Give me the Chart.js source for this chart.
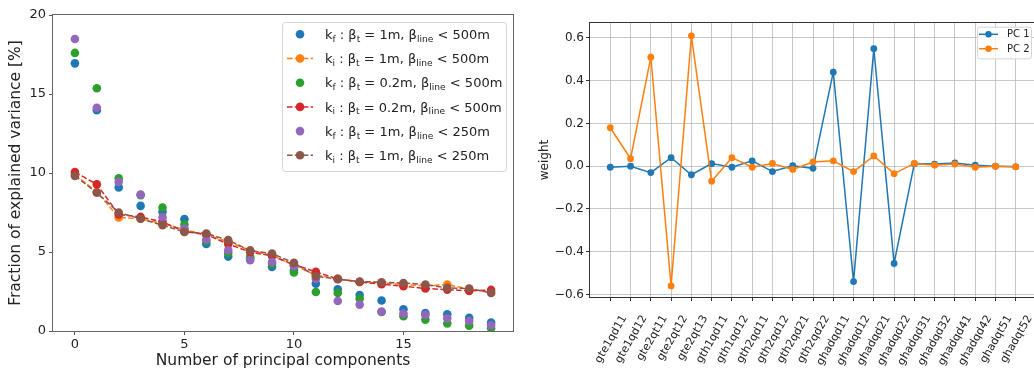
<!DOCTYPE html>
<html><head><meta charset="utf-8">
<script src="https://cdn.jsdelivr.net/npm/chart.js@4.4.0/dist/chart.umd.min.js"></script>
<style>
html,body{margin:0;padding:0;background:#fff;overflow:hidden;width:1034px;height:370px;position:relative;}
#c1{position:absolute;left:0;top:0;}
#c2{position:absolute;left:525px;top:0;}
</style></head><body>
<canvas id="c1" width="525" height="370"></canvas>
<canvas id="c2" width="515" height="370"></canvas>
<script>
// ---------- data: left panel ----------
const components = [0,1,2,3,4,5,6,7,8,9,10,11,12,13,14,15,16,17,18,19];
const xTickValues = [0,5,10,15];
const yTickValues = [0,5,10,15,20];
const seriesLabels = [
  'k_{f} : β_{t} = 1m, β_{line} < 500m',
  'k_{i} : β_{t} = 1m, β_{line} < 500m',
  'k_{f} : β_{t} = 0.2m, β_{line} < 500m',
  'k_{i} : β_{t} = 0.2m, β_{line} < 500m',
  'k_{f} : β_{t} = 1m, β_{line} < 250m',
  'k_{i} : β_{t} = 1m, β_{line} < 250m'
];
const kf_1m_500 = [16.94,13.97,9.09,7.92,7.54,7.08,5.51,4.71,4.6,4.06,3.85,3.0,2.64,2.28,1.93,1.37,1.14,1.06,0.83,0.53];
const ki_1m_500 = [9.9,8.8,7.19,7.1,6.8,6.4,6.1,5.65,5.1,4.8,4.15,3.55,3.3,3.1,3.05,2.95,2.85,2.94,2.65,2.45];
const kf_02m_500 = [17.6,15.36,9.66,8.6,7.82,6.74,5.7,4.94,4.69,4.25,3.7,2.47,2.41,2.05,1.2,0.93,0.72,0.47,0.34,0.17];
const ki_02m_500 = [10.06,9.28,7.38,7.22,6.91,6.3,6.1,5.5,5.0,4.75,4.2,3.74,3.3,3.1,2.96,2.83,2.69,2.62,2.54,2.6];
const kf_1m_250 = [18.48,14.13,9.44,8.64,7.19,6.49,5.79,5.11,4.48,4.37,4.1,3.3,1.9,1.67,1.23,1.1,1.02,0.8,0.63,0.36];
const ki_1m_250 = [9.82,8.75,7.5,7.1,6.7,6.27,6.17,5.75,5.09,4.9,4.31,3.47,3.28,3.13,3.09,3.04,2.94,2.73,2.69,2.41];

// ---------- data: right panel ----------
const magnets = ['gte1qd11','gte1qd12','gte2qt11','gte2qt12','gte2qt13','gth1qd11','gth1qd12','gth2qd11','gth2qd12','gth2qd21','gth2qd22','ghadqd11','ghadqd12','ghadqd21','ghadqd22','ghadqd31','ghadqd32','ghadqd41','ghadqd42','ghadqt51','ghadqt52'];
const pcLabels = ['PC 1','PC 2'];
const pc1 = [-0.005,0.0,-0.03,0.04,-0.04,0.012,-0.005,0.025,-0.025,0.002,-0.01,0.44,-0.54,0.55,-0.455,0.012,0.01,0.015,0.005,0.0,-0.003];
const pc2 = [0.18,0.035,0.51,-0.56,0.61,-0.07,0.04,-0.005,0.013,-0.015,0.02,0.025,-0.025,0.048,-0.035,0.013,0.005,0.01,-0.005,0.0,-0.002];
const weightTicks = [-0.6,-0.4,-0.2,0.0,0.2,0.4,0.6];

// ---------- helpers ----------
const FONT = "'DejaVu Sans', sans-serif";
const TAB = ['#1f77b4','#ff7f0e','#2ca02c','#d62728','#9467bd','#8c564b'];
function richParts(s){ return s.split(/_\{([^}]*)\}/).map((t,i)=>({t, sub: i%2===1})).filter(p=>p.t.length); }
function plain(s){ return s.replace(/_\{([^}]*)\}/g,'$1'); }
function drawRich(ctx, s, x, cy, size){
  let cx = x;
  const base = cy + size*0.36;
  ctx.textAlign='left'; ctx.textBaseline='alphabetic';
  richParts(s).forEach(p=>{
    const fs = p.sub ? size*0.7 : size;
    ctx.font = fs + 'px ' + FONT;
    ctx.fillText(p.t, cx, base + (p.sub ? size*0.22 : 0));
    cx += ctx.measureText(p.t).width;
  });
}
function roundRect(ctx,x,y,w,h,r){
  ctx.beginPath();
  ctx.moveTo(x+r,y); ctx.lineTo(x+w-r,y); ctx.arcTo(x+w,y,x+w,y+r,r);
  ctx.lineTo(x+w,y+h-r); ctx.arcTo(x+w,y+h,x+w-r,y+h,r);
  ctx.lineTo(x+r,y+h); ctx.arcTo(x,y+h,x,y+h-r,r);
  ctx.lineTo(x,y+r); ctx.arcTo(x,y,x+r,y,r); ctx.closePath();
}
function frame(color){
  return { id:'frame', afterDraw(chart){
    const a = chart.chartArea, ctx = chart.ctx;
    ctx.save(); ctx.strokeStyle=color; ctx.lineWidth=1;
    ctx.strokeRect(Math.round(a.left)-0.5, Math.round(a.top)-0.5, Math.round(a.right-a.left)+1, Math.round(a.bottom-a.top)+1);
    ctx.restore();
  }};
}

// ---------- left chart ----------
const leftSeries = [kf_1m_500, ki_1m_500, kf_02m_500, ki_02m_500, kf_1m_250, ki_1m_250];
const leftLines = [false,true,false,true,false,true];
const legendLeft = { id:'legendLeft', afterDraw(chart){
  const ctx = chart.ctx, a = chart.chartArea;
  const w = 224, h = 149, x0 = a.right - 7 - w, y0 = a.top + 7;
  ctx.save();
  roundRect(ctx, x0+0.5, y0+0.5, w, h, 3);
  ctx.fillStyle='rgba(255,255,255,0.85)'; ctx.fill();
  ctx.strokeStyle='#d6d6d6'; ctx.lineWidth=1; ctx.stroke();
  chart.data.datasets.forEach((ds,i)=>{
    const cy = y0 + 12.3 + i*24.2;
    const col = ds.borderColor;
    if (ds.showLine){
      ctx.strokeStyle=col; ctx.lineWidth=1.5; ctx.setLineDash([5.5,2.4]);
      ctx.beginPath(); ctx.moveTo(x0+5,cy); ctx.lineTo(x0+31,cy); ctx.stroke(); ctx.setLineDash([]);
    }
    ctx.fillStyle=col; ctx.beginPath(); ctx.arc(x0+18,cy,4.3,0,Math.PI*2); ctx.fill();
    ctx.fillStyle='#222';
    drawRich(ctx, seriesLabels[i], x0+43, cy, 13);
  });
  ctx.restore();
}};

new Chart(document.getElementById('c1'), {
  type:'scatter',
  data:{ datasets: leftSeries.map((vals,i)=>({
    label: plain(seriesLabels[i]),
    data: components.map((c,j)=>({x:c, y:vals[j]})),
    showLine: leftLines[i],
    borderColor: TAB[i], backgroundColor: TAB[i],
    borderDash:[5.5,2.4], borderWidth:1.5,
    pointRadius:4.3, pointHoverRadius:4.3, pointBorderWidth:0,
    order: 10-i
  }))},
  options:{
    responsive:false, animation:false, devicePixelRatio:1,
    layout:{padding:{top:15,right:12,left:0,bottom:0}},
    plugins:{legend:{display:false}, tooltip:{enabled:false}},
    scales:{
      x:{ type:'linear', min:-1, max:20,
        afterBuildTicks(s){ s.ticks = xTickValues.map(v=>({value:v})); },
        afterFit(s){ s.height = 39; },
        ticks:{ font:{family:FONT,size:13}, color:'#222', padding:2 },
        grid:{ drawOnChartArea:false, drawTicks:true, tickLength:4, tickColor:'#555' },
        border:{display:false},
        title:{ display:true, text:'Number of principal components', font:{family:FONT,size:15.5}, color:'#222', padding:{top:0,bottom:0} }
      },
      y:{ min:0, max:20,
        afterBuildTicks(s){ s.ticks = yTickValues.map(v=>({value:v})); },
        afterFit(s){ s.width = 53; },
        ticks:{ font:{family:FONT,size:13}, color:'#222', padding:3 },
        grid:{ drawOnChartArea:false, drawTicks:true, tickLength:4, tickColor:'#555' },
        border:{display:false},
        title:{ display:true, text:'Fraction of explained variance [%]', font:{family:FONT,size:15.5}, color:'#222', padding:{top:7,bottom:0} }
      }
    }
  },
  plugins:[frame('#666'), legendLeft]
});

// ---------- right chart ----------
const rightSeries = [pc1, pc2];
const legendRight = { id:'legendRight', afterDraw(chart){
  const ctx = chart.ctx, a = chart.chartArea;
  const w = 54, h = 31.6, x0 = a.right - 5 - w, y0 = a.top + 3.7;
  ctx.save();
  roundRect(ctx, x0+0.5, y0+0.5, w, h, 2.5);
  ctx.fillStyle='rgba(255,255,255,0.85)'; ctx.fill();
  ctx.strokeStyle='#d6d6d6'; ctx.lineWidth=1; ctx.stroke();
  chart.data.datasets.forEach((ds,i)=>{
    const cy = y0 + 7.6 + i*14.4;
    ctx.strokeStyle=ds.borderColor; ctx.lineWidth=1.5;
    ctx.beginPath(); ctx.moveTo(x0+2,cy); ctx.lineTo(x0+21,cy); ctx.stroke();
    ctx.fillStyle=ds.borderColor; ctx.beginPath(); ctx.arc(x0+11.5,cy,3.2,0,Math.PI*2); ctx.fill();
    ctx.fillStyle='#222'; ctx.font='10px '+FONT; ctx.textAlign='left'; ctx.textBaseline='middle';
    ctx.fillText(ds.label, x0+30, cy+0.5);
  });
  ctx.restore();
}};

new Chart(document.getElementById('c2'), {
  type:'scatter',
  data:{ datasets: rightSeries.map((vals,i)=>({
    label: pcLabels[i],
    data: magnets.map((m,j)=>({x:j, y:vals[j]})),
    showLine:true,
    borderColor: TAB[i], backgroundColor: TAB[i],
    borderWidth:1.5,
    pointRadius:3.4, pointHoverRadius:3.4, pointBorderWidth:0,
    order: 10-i
  }))},
  options:{
    responsive:false, animation:false, devicePixelRatio:1,
    layout:{padding:{top:23,right:4,left:0,bottom:0}},
    plugins:{legend:{display:false}, tooltip:{enabled:false}},
    scales:{
      x:{ type:'linear', min:-1, max:21,
        afterBuildTicks(s){ s.ticks = magnets.map((m,j)=>({value:j})); },
        afterFit(s){ s.height = 73; },
        ticks:{ font:{family:FONT,size:11}, color:'#222', padding:12, labelOffset:14,
          minRotation:60, maxRotation:60, autoSkip:false,
          callback:(v)=>magnets[v] },
        grid:{ color:'rgba(176,176,176,0.7)', lineWidth:1, drawTicks:true, tickLength:4, tickColor:'#333' },
        border:{display:false}
      },
      y:{ min:-0.612, max:0.67,
        afterBuildTicks(s){ s.ticks = weightTicks.map(v=>({value:v})); },
        afterFit(s){ s.width = 65; },
        ticks:{ font:{family:FONT,size:12}, color:'#222', padding:2,
          callback:(v)=>v.toFixed(1).replace('-','\u2212') },
        grid:{ color:'rgba(176,176,176,0.7)', lineWidth:1, drawTicks:true, tickLength:4, tickColor:'#333' },
        border:{display:false},
        title:{ display:true, text:'weight', font:{family:FONT,size:12}, color:'#222', padding:{top:13,bottom:0} }
      }
    }
  },
  plugins:[frame('#333'), legendRight]
});
</script>
</body></html>
